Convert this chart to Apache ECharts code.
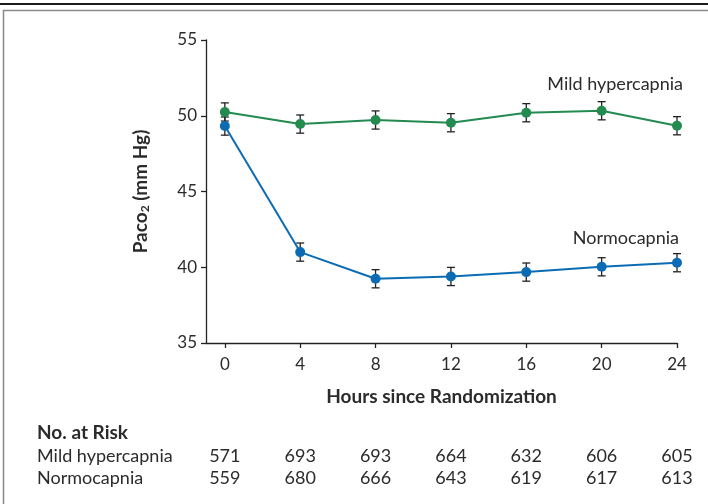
<!DOCTYPE html>
<html><head><meta charset="utf-8">
<script src="https://cdn.jsdelivr.net/npm/echarts@6/dist/echarts.min.js"></script>
<style>html,body{margin:0;padding:0;background:#fff}#c{width:708px;height:504px}</style>
</head><body><div id="c"></div>
<script>
var hours = [0, 4, 8, 12, 16, 20, 24];
var mildMean = [50.25, 49.45, 49.72, 49.54, 50.2, 50.33, 49.34];
var mildErr = [0.6, 0.6, 0.6, 0.6, 0.6, 0.6, 0.6];
var normoMean = [49.32, 41.0, 39.24, 39.39, 39.68, 40.03, 40.3];
var normoErr = [0.6, 0.6, 0.6, 0.6, 0.6, 0.6, 0.6];
var yTicks = [35, 40, 45, 50, 55];
var riskMild = [571, 693, 693, 664, 632, 606, 605];
var riskNormo = [559, 680, 666, 643, 619, 617, 613];
var seriesNames = ['Mild hypercapnia', 'Normocapnia'];

var FONT = 'Lato, "Open Sans", sans-serif';
var FS = 18;     // regular text
var FT = 17;     // tick labels
var FB = 19;     // bold titles
var TXT = '#2b2b2b';
var GREEN = '#238a50';
var BLUE = '#0b6cb3';

function errData(mean, err) {
  return hours.map(function (h, i) { return [h, mean[i] - err[i], mean[i] + err[i]]; });
}
function errRender(params, api) {
  var x = api.value(0);
  var lo = api.coord([x, api.value(1)]);
  var hi = api.coord([x, api.value(2)]);
  var w = 4;
  var st = { stroke: '#222', lineWidth: 1.3 };
  return { type: 'group', children: [
    { type: 'line', shape: { x1: lo[0], y1: lo[1], x2: hi[0], y2: hi[1] }, style: st },
    { type: 'line', shape: { x1: lo[0] - w, y1: lo[1], x2: lo[0] + w, y2: lo[1] }, style: st },
    { type: 'line', shape: { x1: hi[0] - w, y1: hi[1], x2: hi[0] + w, y2: hi[1] }, style: st }
  ]};
}

var chart = echarts.init(document.getElementById('c'), null, { renderer: 'canvas' });
var option = {
  animation: false,
  backgroundColor: '#fff',
  textStyle: { fontFamily: FONT },
  grid: { left: 206, right: 31, top: 40, bottom: 161, containLabel: false },
  xAxis: {
    type: 'value', min: -1.0, max: 24,
    name: 'Hours since Randomization', nameLocation: 'middle', nameGap: 44,
    nameTextStyle: { fontFamily: FONT, fontSize: FB, fontWeight: 'bold', color: TXT },
    axisLine: { onZero: false, lineStyle: { color: '#222', width: 1.3 } },
    axisTick: { show: true, length: 5, customValues: hours, lineStyle: { color: '#222', width: 1.3 } },
    axisLabel: { customValues: hours, fontFamily: FONT, fontSize: FT, color: TXT, margin: 13 },
    splitLine: { show: false }
  },
  yAxis: {
    type: 'value', min: 35, max: 55, interval: 5,
    name: '{a|Paco}{s|2}{a| (mm Hg)}', nameLocation: 'middle', nameGap: 55, nameRotate: 90,
    nameTextStyle: {
      rich: {
        a: { fontFamily: FONT, fontSize: FB, fontWeight: 'bold', color: TXT },
        s: { fontFamily: FONT, fontSize: 12, fontWeight: 'bold', color: TXT, padding: [9, 0, 0, 0] }
      }
    },
    axisLine: { show: true, onZero: false, lineStyle: { color: '#222', width: 1.3 } },
    axisTick: { show: true, length: 5, customValues: yTicks, lineStyle: { color: '#222', width: 1.3 } },
    axisLabel: { customValues: yTicks, fontFamily: FONT, fontSize: FT, color: TXT, margin: 9 },
    splitLine: { show: false }
  },
  series: [
    { type: 'custom', renderItem: errRender, data: errData(mildMean, mildErr), z: 1, silent: true },
    { type: 'custom', renderItem: errRender, data: errData(normoMean, normoErr), z: 1, silent: true },
    { name: seriesNames[0], type: 'line', data: hours.map(function (h, i) { return [h, mildMean[i]]; }),
      symbol: 'circle', symbolSize: 10, lineStyle: { color: GREEN, width: 2 }, itemStyle: { color: GREEN }, z: 3 },
    { name: seriesNames[1], type: 'line', data: hours.map(function (h, i) { return [h, normoMean[i]]; }),
      symbol: 'circle', symbolSize: 10, lineStyle: { color: BLUE, width: 2 }, itemStyle: { color: BLUE }, z: 3 }
  ]
};
chart.setOption(option);

var F = FS + 'px ' + FONT;
var g = [
  { type: 'rect', shape: { x: 0, y: 3, width: 708, height: 2 }, style: { fill: '#1a1a1a' } },
  { type: 'rect', shape: { x: 3.5, y: 10.5, width: 720, height: 520 }, style: { fill: 'none', stroke: '#8a8a8a', lineWidth: 1.5 }, z: -1 },
  { type: 'text', x: 683, y: 84, style: { text: seriesNames[0], align: 'right', verticalAlign: 'middle', font: F, fill: TXT } },
  { type: 'text', x: 679, y: 238, style: { text: seriesNames[1], align: 'right', verticalAlign: 'middle', font: F, fill: TXT } },
  { type: 'text', x: 37, y: 433, style: { text: 'No. at Risk', align: 'left', verticalAlign: 'middle', font: 'bold ' + FB + 'px ' + FONT, fill: TXT } },
  { type: 'text', x: 37, y: 456.5, style: { text: seriesNames[0], align: 'left', verticalAlign: 'middle', font: F, fill: TXT } },
  { type: 'text', x: 37, y: 478, style: { text: seriesNames[1], align: 'left', verticalAlign: 'middle', font: F, fill: TXT } }
];
hours.forEach(function (h, i) {
  var px = chart.convertToPixel({ xAxisIndex: 0 }, h);
  g.push({ type: 'text', x: px, y: 456.5, style: { text: String(riskMild[i]), align: 'center', verticalAlign: 'middle', font: F, fill: TXT } });
  g.push({ type: 'text', x: px, y: 478, style: { text: String(riskNormo[i]), align: 'center', verticalAlign: 'middle', font: F, fill: TXT } });
});
chart.setOption({ graphic: g });
</script>
</body></html>
